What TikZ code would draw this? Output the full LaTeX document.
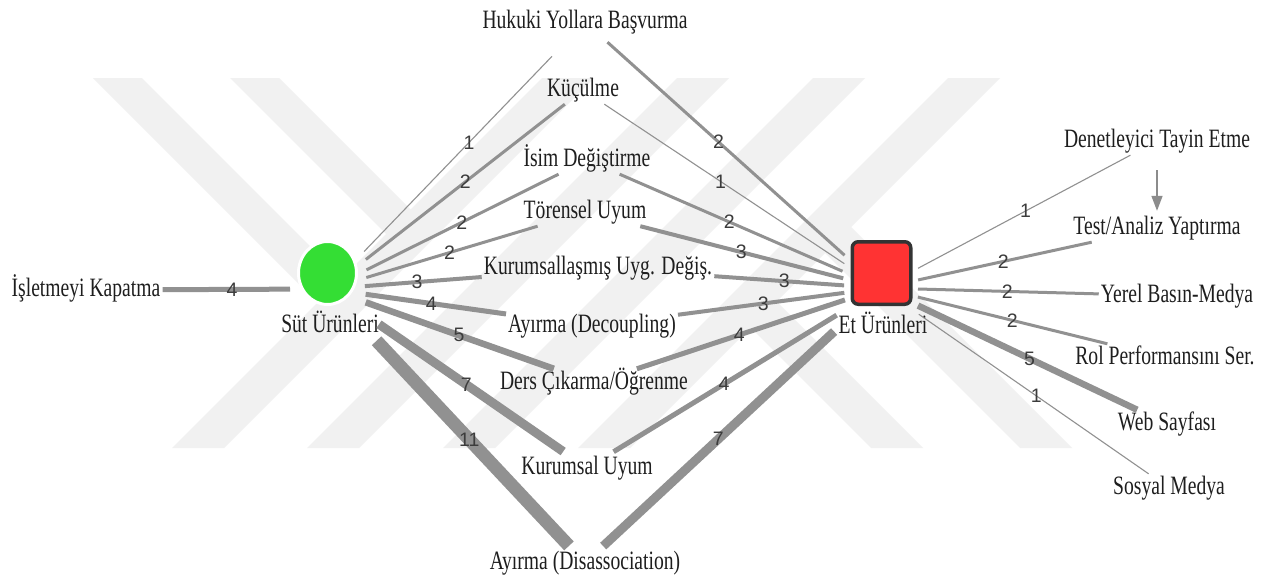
\documentclass[tikz,border=0pt]{standalone}
\usepackage{fontspec}
\setmainfont[FakeStretch=0.74]{Liberation Serif}
\newfontfamily\lblfont{Liberation Sans}
\usetikzlibrary{arrows.meta,shapes.geometric}

\definecolor{edgegray}{RGB}{145,145,145}
\definecolor{arrowgray}{RGB}{140,140,140}
\definecolor{wmgray}{RGB}{241,241,241}
\definecolor{nodegreen}{RGB}{52,222,52}
\definecolor{nodered}{RGB}{255,51,51}
\definecolor{frame}{RGB}{51,51,51}
\definecolor{txt}{RGB}{30,30,30}
\definecolor{numtxt}{RGB}{60,60,60}

\begin{document}
\begin{tikzpicture}[x=1pt,y=-1pt,
  band/.style={fill=wmgray,draw=none},
  term/.style={font=\fontsize{26.5}{28}\selectfont,text=txt,inner sep=2pt,
               text height=18.5pt,text depth=5.5pt},
  wlbl/.style={font=\lblfont\fontsize{19.5}{21}\selectfont,text=numtxt,
               inner sep=0pt,pos=0.58},
  wa/.style={draw=edgegray,line width=1.1pt},
  wb/.style={draw=edgegray,line width=3pt},
  wc/.style={draw=edgegray,line width=4pt},
  wd/.style={draw=edgegray,line width=5pt},
  we/.style={draw=edgegray,line width=6.5pt},
  wg/.style={draw=edgegray,line width=9pt},
  wk/.style={draw=edgegray,line width=13pt},
  cue/.style={draw=arrowgray,line width=1.5pt,-{Triangle[width=11pt,length=15pt]}},
  dairy/.style={ellipse,fill=nodegreen,draw=white,line width=3pt,
                minimum width=58pt,minimum height=63pt,inner sep=0pt},
  meat/.style={rectangle,fill=nodered,draw=frame,line width=3.5pt,
               rounded corners=6pt,minimum width=58.5pt,minimum height=62.5pt,inner sep=0pt}
]
\useasboundingbox (0,0) rectangle (1271,576);
\fill[white] (0,0) rectangle (1271,576);

% faint striped backdrop
\foreach \b in {172,307,443,578}
  \fill[band] (\b,448) -- ({\b+52},448) -- ({\b+422},78) -- ({\b+370},78) -- cycle;
\fill[band] (93,78) -- (142,78) -- (355,291) -- (330.5,315.5) -- cycle;
\fill[band] (230,78) -- (279,78) -- (423.5,222.5) -- (399,247) -- cycle;
\fill[band] (871,448) -- (923,448) -- (763.5,288.5) -- (737.5,314.5) -- cycle;
\fill[band] (1020,448) -- (1072,448) -- (838,214) -- (812,240) -- cycle;

% hubs
\coordinate (sut) at (328,289);
\coordinate (et) at (881,288);
\node[dairy] (sutdot) at (327.5,273) {};
\node[term] (sutlbl) at (330,326) {Süt Ürünleri};
\node[meat] (etbox) at (881.5,273) {};
\node[term] (etlbl) at (883,327) {Et Ürünleri};

% strategies
\node[term] (isletme) at (86,290) {İşletmeyi Kapatma};
\node[term] (hukuki) at (585,22) {Hukuki Yollara Başvurma};
\node[term] (kucul) at (583,90) {Küçülme};
\node[term] (isim) at (587,160) {İsim Değiştirme};
\node[term] (toren) at (585,212) {Törensel Uyum};
\node[term] (kurlas) at (598,268) {Kurumsallaşmış Uyg. Değiş.};
\node[term] (decoup) at (592,326) {Ayırma (Decoupling)};
\node[term] (ders) at (594,383) {Ders Çıkarma/Öğrenme};
\node[term] (kuruyum) at (587,468) {Kurumsal Uyum};
\node[term] (disass) at (585,563) {Ayırma (Disassociation)};
\node[term] (denet) at (1157,141) {Denetleyici Tayin Etme};
\node[term] (test) at (1157,228) {Test/Analiz Yaptırma};
\node[term] (yerel) at (1177,296) {Yerel Basın-Medya};
\node[term] (rol) at (1165,358) {Rol Performansını Ser.};
\node[term] (web) at (1167,424) {Web Sayfası};
\node[term] (sosyal) at (1169,488) {Sosyal Medya};

% dairy links
\draw[wa,shorten <=52pt,shorten >=28pt] (sut) -- node[wlbl]{1} (hukuki);
\draw[wb,shorten <=48pt] (sut) -- node[wlbl]{2} (kucul);
\draw[wb,shorten <=43pt] (sut) -- node[wlbl]{2} (isim);
\draw[wb,shorten <=40pt] (sut) -- node[wlbl]{2} (toren);
\draw[wc,shorten <=37pt] (sut) -- node[wlbl]{3} (kurlas);
\draw[wd,shorten <=38pt] (sut) -- node[wlbl]{4} (decoup);
\draw[we,shorten <=40pt] (sut) -- node[wlbl]{5} (ders);
\draw[wg,shorten <=62pt,shorten >=4pt] (sut) -- node[wlbl]{7} (kuruyum);
\draw[wk,shorten <=71pt,shorten >=4pt] (sut) -- node[wlbl]{11} (disass);
\draw[wd,shorten <=38pt] (sut) -- node[wlbl]{4} (isletme);

% meat links
\draw[wb,shorten <=49pt,shorten >=9pt] (et) -- node[wlbl]{2} (hukuki);
\draw[wa,shorten <=44pt] (et) -- node[wlbl]{1} (kucul);
\draw[wb,shorten <=42pt] (et) -- node[wlbl]{2} (isim);
\draw[wc,shorten <=39pt] (et) -- node[wlbl]{3} (toren);
\draw[wc,shorten <=37pt] (et) -- node[wlbl]{3} (kurlas);
\draw[wc,shorten <=37pt] (et) -- node[wlbl]{3} (decoup);
\draw[wd,shorten <=38pt] (et) -- node[wlbl]{4} (ders);
\draw[wd,shorten <=52pt,shorten >=4pt] (et) -- node[wlbl]{4} (kuruyum);
\draw[wg,shorten <=64pt,shorten >=4pt] (et) -- node[wlbl]{7} (disass);
\draw[wa,shorten <=42pt] (et) -- node[wlbl]{1} (denet);
\draw[wb,shorten <=38pt] (et) -- node[wlbl]{2} (test);
\draw[wb,shorten <=37pt] (et) -- node[wlbl]{2} (yerel);
\draw[wb,shorten <=38pt] (et) -- node[wlbl]{2} (rol);
\draw[we,shorten <=41pt] (et) -- node[wlbl]{5} (web);
\draw[wa,shorten <=46pt] (et) -- node[wlbl]{1} (sosyal);

% follow-up step
\draw[cue,shorten <=15pt,shorten >=3pt] (denet) -- (test);
\end{tikzpicture}
\end{document}
